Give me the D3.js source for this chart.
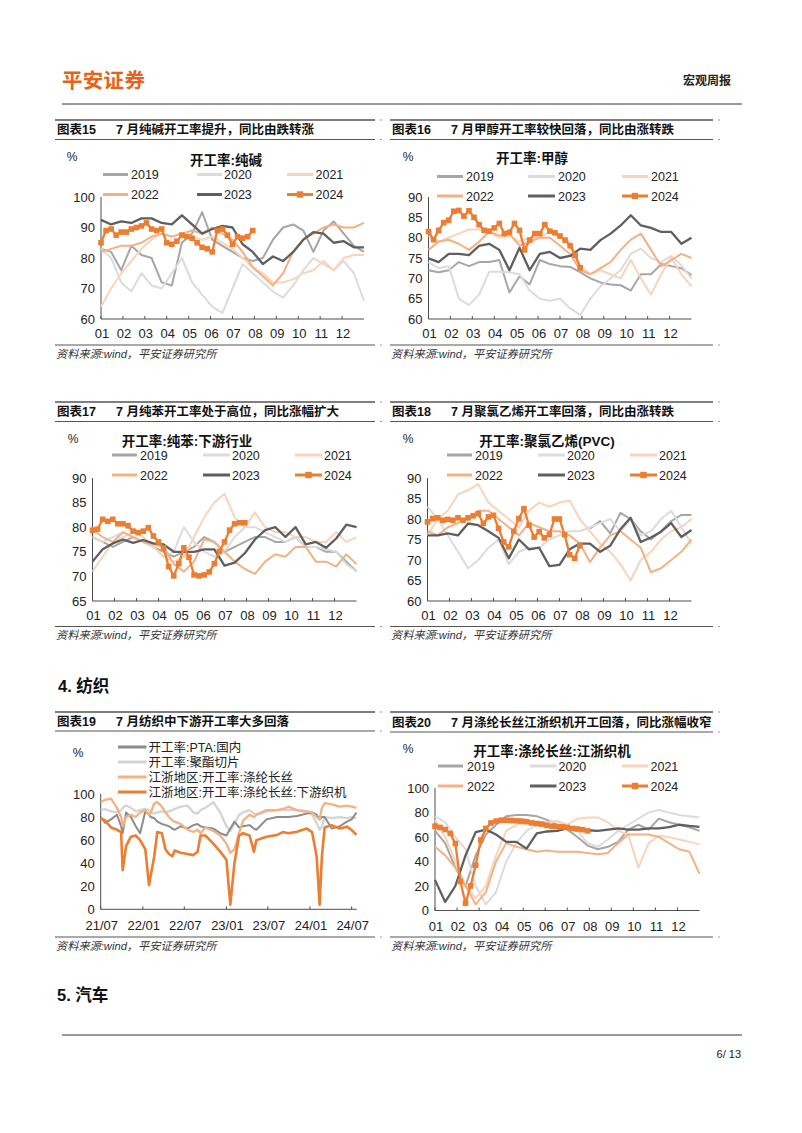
<!DOCTYPE html>
<html><head><meta charset="utf-8">
<script src="https://cdn.jsdelivr.net/npm/d3@7"></script>
<style>body{margin:0;background:#fff}svg{display:block}</style>
</head><body>
<svg id="page" width="802" height="1133"></svg>
<script>
// ---------------- DATA ----------------
const monthLabels = ["01","02","03","04","05","06","07","08","09","10","11","12"];
const yearNames = ["2019","2020","2021","2022","2023","2024"];

// Chart 15: 开工率:纯碱 (biweekly for 2019-2023, weekly for 2024)
const soda2019 = [83,82,76,84,81,80,72,71,85,88,95,86,84,82,80,79,80,86,90,91,89,82,89,92,88,84,82];
const soda2020 = [83,80,72,69,75,71,70,75,80,72,68,64,62,70,78,75,72,69,67,71,76,80,78,76,79,75,66];
const soda2021 = [64,70,75,79,83,86,88,87,88,87,86,87,85,83,80,77,75,72,72,73,75,76,79,76,80,81,81];
const soda2022 = [82,83,84,84,85,87,88,87,88,89,88,90,88,86,82,77,74,71,75,82,86,88,90,91,90,90,91.5];
const soda2023 = [92.5,91,92,91.5,93,93,91.5,91,94,91,88,89.5,90.5,90,84.5,82,78,80.5,79,82,86,88.5,88,85,85.5,83.5,83.5];
const soda2024 = [85,89,89.5,87.5,88.5,88.5,89.5,90,90.5,91.5,89.5,89,89.5,85,84.5,85.5,87.5,87,86.5,85,83.5,83,82,89,89.5,87.5,84.5,87,86.5,87,89];

// Chart 16: 开工率:甲醇
const meth2019 = [72,71.5,72,74,73,74,74,74.5,66.5,70.5,68.5,74.5,73.5,73,72.8,71.5,70,69,68.5,68.3,67,71,71,73.5,73,72.5,70.8];
const meth2020 = [74,72.5,73,65,63.4,66,71.6,71.6,71.5,71,67,65,64.5,65,62.6,61,65,68,70,72,76,77.3,75,74,75.5,73.2,70];
const meth2021 = [80.5,79,80,81,82,82,81.5,80,80.5,79,80,80,81.5,80,79,73,71,72,71,70,74.5,70,66,71,75,71,68];
const meth2022 = [77,79,79.5,78.5,77,79,81.5,80.5,81,78,79,80,80,78,76,72,71,72.5,74,77,79.5,81,77,73,74.5,76,75];
const meth2023 = [74.9,74,76,76,75.7,78,78.5,77,72,77.5,72,76,76.5,75,75.5,77.3,77,79.4,81,83,85.5,83,82.4,81.4,81.4,78.5,80];
const meth2024 = [81.5,79.5,81.8,83.7,84.3,86.5,86.7,85.3,86.6,85,83.2,81.8,81.6,82.4,83.5,81,81.3,83.5,81.8,77,79.4,81,81,83.2,81.6,81.2,80.4,79.4,78,75.7,72.6];

// Chart 17: 开工率:纯苯:下游行业
const benz2019 = [78,77,76,77,78,77,76,75,74,75,76,78,77,75,76,77,78,78,77,77,78,76,76,75,75,73,71];
const benz2020 = [78,77,78,79,78,77,76,74,75,80,77,75,74,75,78,80,80,79,78,77,78,76,76,75.5,75,72.5,71];
const benz2021 = [71,74,77,78,79,78,76,74,73,74,78,82,85,86.8,82,80,83,80,79,79,78,78,77,77,79,77,78];
const benz2022 = [79.5,78,77,79,78,77,76.5,76,72.5,71,73,77.5,77,75,73,71.5,70.5,73,74.5,74,76,76,73,73,72,74.5,72.5];
const benz2023 = [73,75.5,76.7,77.5,76.8,77.4,76.7,76.5,75,75,75,75.5,75.5,72.2,72.8,74.7,77.5,79.4,80,78,80,76.5,77,75.8,77.7,80.5,80];
const benz2024 = [79.4,79.6,81.6,81.2,81.6,80.7,80.7,80.3,79.2,78.9,79.2,79.9,78.2,77,75.8,72,70.1,72.6,75.8,73.9,70.3,70.1,70.3,70.9,72.6,75.1,77,79.4,80.7,80.9,80.9];

// Chart 18: 开工率:聚氯乙烯(PVC)
const pvc2019 = [null,null,null,null,null,null,null,null,null,null,null,null,null,null,null,null,77.7,79.5,76.5,81.5,80,77,75,77,79.5,81,81];
const pvc2020 = [83,80,76,72,68,70,73,75,69,72,73,73,75,76,77,77,78,79,80,77,80,76,77,80,82,78,74];
const pvc2021 = [76,80,82,86,87,88.5,84,82,80,78,82,84,83,84,84.5,80,77,74,72,69,65,70,72,75,77,78,80];
const pvc2022 = [77,76,78,79,80,82,82,80,78,76,79,78,77,77,76,74,69.5,73,76,77,75,73,67,68,70,72,75];
const pvc2023 = [76,76,76.5,76,78.9,78.5,77,75.4,70.4,75,72.6,73,68.5,68.8,72.6,74,74,72,73.5,77.5,80.3,74.4,75.5,76.9,79,75.6,77.3];
const pvc2024 = [79.3,80.1,80.3,79.7,79.9,79.7,80.3,79.7,80.3,80.8,81.3,78.9,80.5,80.9,77.7,74.4,73.2,77,80.1,82.5,78.5,75.6,76.9,75.4,76.2,80,80,76.2,71.3,70.4,73.5];

// Chart 19: 纺织 (shared observation dates)
const textileDates = ["2021-07-01","2021-07-20","2021-08-15","2021-09-10","2021-09-28","2021-10-05","2021-10-20","2021-11-10","2021-12-01","2021-12-20",
  "2022-01-12","2022-01-28","2022-02-05","2022-02-20","2022-03-05","2022-03-25","2022-04-10","2022-04-25","2022-05-10","2022-05-20",
  "2022-06-15","2022-07-15","2022-08-10","2022-08-28","2022-09-10","2022-10-01","2022-11-05","2022-12-05","2023-01-01","2023-01-18",
  "2023-02-05","2023-02-25","2023-03-15","2023-04-12","2023-05-01","2023-05-12","2023-06-25","2023-08-10","2023-09-05","2023-09-28",
  "2023-11-05","2023-12-18","2024-01-10","2024-01-30","2024-02-12","2024-02-22","2024-03-05","2024-04-05","2024-05-10","2024-06-10",
  "2024-07-01","2024-07-22"];
const ptaRate = [80,75,78,82,72,66,84,80,72,66, 85,82,80,79,76,74,73,72,70,69, 72,70,73,74,72,71,70,66,64,70,
  76,71,72,73,70,69,78,80,80,80, 81,83,84,82,78,80,80,70,72,76, 78,84];
const polyChipRate = [86,87,85,84,86,88,90,88,85,86, 87,86,84,83,84,85,84,85,86,87, 89,90,84,83,86,88,93,84,72,68,
  74,82,84,86,83,82,85,86,86,86, 86,84,82,75,69,72,80,79,80,79, 80,79];
const filamentRate = [93,95,96,88,80,72,80,82,80,84, 86,82,84,92,93,89,84,80,77,76, 74,69,67,69,66,71,68,64,57,49,
  52,66,77,82,80,82,86,86,87,89, 86,85,84,80,78,88,92,91,89,90, 89,88];
const loomRate = [79,77,71,69,67,34,55,63,64,60, 52,21,30,46,67,66,52,48,46,51, 49,48,47,50,64,64,57,50,43,4,
  40,64,66,64,50,60,63,64.5,67,66, 67.3,70,67,46,4,46,71,73,70,71.7, 68.8,64.5];
const textileTickDates = ["2021-07-01","2022-01-01","2022-07-01","2023-01-01","2023-07-01","2024-01-01","2024-07-01"];
const textileNames = ["开工率:PTA:国内","开工率:聚酯切片","江浙地区:开工率:涤纶长丝","江浙地区:开工率:涤纶长丝:下游织机"];

// Chart 20: 开工率:涤纶长丝:江浙织机
const loom2019 = [65,55,35,20,45,62,70,77,78,78,77,74,70,66,60,53,50,52,56,66,70,66,75,72,70,68,65];
const loom2020 = [77,72,60,50,20,5,15,40,55,65,70,72,73,70,65,55,52,58,65,70,75,80,82,80,78,77,76];
const loom2021 = [74,60,40,20,10,20,45,65,70,72,72,72,73,70,75,76,76,72,65,62,35,55,61,60,58,56,54];
const loom2022 = [52,45,35,20,5,15,40,55,52,50,48,49,48,48,48,47,46,47,55,62,62,62,60,55,50,48,30];
const loom2023 = [25,7,20,45,64,66,62,56,56,50.5,63,64.5,65,67,67.5,65.5,65,66,67,66,66,67,67,68,70,69,68.3];
const loom2024 = [68.8,67.8,66.1,62.9,54.7,23.6,6,20,37,57.5,67,71.5,73,73.7,73.7,73.5,73.2,73,72.5,71.5,71,70.5,69.5,68.8,68.5,68.3,67.8,67,66.5,66,65];

// ---------------- STYLE ----------------
const yearColors = ["#A6A6A6","#DCDCDC","#F9D3BA","#F4B183","#5F5F5F","#ED7D31"];
const yearWidths = [2,2,2,2,2.3,2.3];
const textileColors = ["#8C8C8C","#D4D4D4","#F4B183","#ED7D31"];
const textileWidths = [2,2.3,2.3,2.6];
const NUM = "'Liberation Sans', Arial, 'Noto Sans CJK SC', sans-serif";
const CJK = "'Liberation Sans', 'Noto Sans CJK SC', sans-serif";
const AXIS = "#4D4D4D";

const svg = d3.select("#page");
svg.append("rect").attr("width",802).attr("height",1133).attr("fill","#fff");

// header
svg.append("text").attr("x",62).attr("y",88).attr("font-family",CJK).attr("font-weight","bold")
  .attr("font-size",20.5).attr("fill","#E8621A").attr("letter-spacing",0.3).text("平安证券");
svg.append("text").attr("x",731).attr("y",85).attr("text-anchor","end").attr("font-family",CJK)
  .attr("font-weight","bold").attr("font-size",12).attr("fill","#222").text("宏观周报");
svg.append("line").attr("x1",62).attr("x2",742).attr("y1",104).attr("y2",104).attr("stroke","#333").attr("stroke-width",1);

// section headers / footer
svg.append("text").attr("x",58).attr("y",692).attr("font-family",CJK).attr("font-weight","bold").attr("font-size",16.5).attr("fill","#111").text("4. 纺织");
svg.append("text").attr("x",57).attr("y",1001).attr("font-family",CJK).attr("font-weight","bold").attr("font-size",16.5).attr("fill","#111").text("5. 汽车");
svg.append("line").attr("x1",62).attr("x2",742).attr("y1",1035).attr("y2",1035).attr("stroke","#333").attr("stroke-width",1);
svg.append("text").attr("x",741).attr("y",1058).attr("text-anchor","end").attr("font-family",NUM).attr("font-size",11).attr("fill","#222").text("6/ 13");

function panelFrame(x0,x1,top,bot,num,title,srcRule,srcText){
  svg.append("line").attr("x1",x0).attr("x2",x1).attr("y1",top).attr("y2",top).attr("stroke","#555").attr("stroke-width",1.6);
  svg.append("line").attr("x1",x0).attr("x2",x1).attr("y1",bot).attr("y2",bot).attr("stroke","#555").attr("stroke-width",1.2);
  [top,bot,srcRule].forEach(yy=>{
    svg.append("line").attr("x1",x1+5).attr("x2",x1+7).attr("y1",yy).attr("y2",yy).attr("stroke","#999").attr("stroke-width",1);
  });
  const t = svg.append("text").attr("y",(top+bot)/2+4.5).attr("font-family",CJK).attr("font-weight","bold").attr("font-size",12.5).attr("fill","#111");
  t.append("tspan").attr("x",x0+2).text(num);
  t.append("tspan").attr("x",x0+61).text(title);
  svg.append("line").attr("x1",x0).attr("x2",x1).attr("y1",srcRule).attr("y2",srcRule).attr("stroke","#555").attr("stroke-width",1);
  svg.append("text").attr("x",x0+1).attr("y",srcText).attr("font-family",CJK).attr("font-style","italic")
    .attr("font-size",11.2).attr("fill","#333").text("资料来源:wind，平安证券研究所");
}

function axes(g, x, y, L, R, T, B, yTicks, xTickVals, xFmt, xLabY){
  g.append("line").attr("x1",L).attr("x2",L).attr("y1",T).attr("y2",B).attr("stroke",AXIS).attr("stroke-width",1);
  g.append("line").attr("x1",L).attr("x2",R).attr("y1",B).attr("y2",B).attr("stroke",AXIS).attr("stroke-width",1);
  yTicks.forEach(v=>{
    g.append("text").attr("x",L-6).attr("y",y(v)+4.5).attr("text-anchor","end").attr("font-family",NUM)
      .attr("font-size",13).attr("fill","#222").text(v);
  });
  xTickVals.forEach((v,i)=>{
    const px = x(v);
    g.append("line").attr("x1",px).attr("x2",px).attr("y1",B).attr("y2",B-3).attr("stroke",AXIS);
    g.append("text").attr("x",px+1).attr("y",xLabY).attr("text-anchor","middle").attr("font-family",NUM)
      .attr("font-size",13).attr("fill","#222").text(xFmt(v,i));
  });
}

function legendItem(g, x1, x2, tx, yy, color, w, label, marker){
  g.append("line").attr("x1",x1).attr("x2",x2).attr("y1",yy).attr("y2",yy).attr("stroke",color).attr("stroke-width",w);
  if(marker) g.append("rect").attr("x",(x1+x2)/2-3.2).attr("y",yy-3.2).attr("width",6.4).attr("height",6.4).attr("fill",color);
  g.append("text").attr("x",tx).attr("y",yy+4.5).attr("font-family",NUM).attr("font-size",12.5).attr("fill","#222").text(label);
}

function seasonal(cfg, data){
  const g = svg.append("g");
  const x = d3.scaleLinear().domain([0,52]).range([cfg.L,cfg.R]);
  const y = d3.scaleLinear().domain([cfg.yMin,cfg.yMax]).range([cfg.B,cfg.T]);
  const yTicks = d3.range(cfg.yMin, cfg.yMax+0.01, cfg.yStep);
  const monthWeeks = monthLabels.map((m,i)=> i*52/12);
  axes(g,x,y,cfg.L,cfg.R,cfg.T,cfg.B,yTicks,monthWeeks,(v,i)=>monthLabels[i],cfg.xLabY);
  g.append("text").attr("x",cfg.pctX).attr("y",cfg.pctY).attr("text-anchor","middle").attr("font-family",NUM).attr("font-size",12).attr("fill","#222").text("%");
  g.append("text").attr("x",cfg.titleX).attr("y",cfg.titleY).attr("text-anchor","middle").attr("font-family",CJK).attr("font-weight","bold").attr("font-size",13.5).attr("fill","#111").text(cfg.title);
  const line = d3.line().defined(d=>d[1]!=null).x(d=>x(d[0])).y(d=>y(d[1]));
  data.forEach((arr,si)=>{
    const step = si===5 ? 1 : 52/(arr.length-1);
    const pts = arr.map((v,i)=>[i*step, v]);
    g.append("path").datum(pts).attr("d",line).attr("fill","none").attr("stroke",yearColors[si])
      .attr("stroke-width",yearWidths[si]).attr("stroke-linejoin","round");
    if(si===5){
      g.selectAll(null).data(pts).enter().append("rect")
        .attr("x",d=>x(d[0])-2.8).attr("y",d=>y(d[1])-2.8).attr("width",5.6).attr("height",5.6).attr("fill",yearColors[5]);
    }
  });
  yearNames.forEach((nm,i)=>{
    const c = cfg.legCols[i%3], ry = cfg.legRows[Math.floor(i/3)];
    legendItem(g,c[0],c[1],c[2],ry,yearColors[i],3,nm,i===5);
  });
}

// ---------------- PANELS ----------------
panelFrame(55,375,120,139.5,"图表15","7 月纯碱开工率提升，同比由跌转涨",345,358);
seasonal({L:101,R:364,T:197,B:319,yMin:60,yMax:100,yStep:10,xLabY:337.5,pctX:72,pctY:161,
  title:"开工率:纯碱",titleX:226,titleY:165,legRows:[174.5,194.5],
  legCols:[[103,128,131],[197,222,224],[287,313,315.5]]},
  [soda2019,soda2020,soda2021,soda2022,soda2023,soda2024]);

panelFrame(390,713,120,139.5,"图表16","7 月甲醇开工率较快回落，同比由涨转跌",345,358);
seasonal({L:428.5,R:691.5,T:197,B:319,yMin:60,yMax:90,yStep:5,xLabY:337.5,pctX:408,pctY:161,
  title:"开工率:甲醇",titleX:532,titleY:163,legRows:[176.5,196],
  legCols:[[437,463,466],[528,555,558],[622,648,651]]},
  [meth2019,meth2020,meth2021,meth2022,meth2023,meth2024]);

panelFrame(55,375,402,421.5,"图表17","7 月纯苯开工率处于高位，同比涨幅扩大",626.5,639);
seasonal({L:92.5,R:356.5,T:478,B:601,yMin:65,yMax:90,yStep:5,xLabY:619.5,pctX:73,pctY:443,
  title:"开工率:纯苯:下游行业",titleX:187,titleY:446,legRows:[455,475],
  legCols:[[112,137,140],[203,230,232],[295,322,324]]},
  [benz2019,benz2020,benz2021,benz2022,benz2023,benz2024]);

panelFrame(390,713,402,421.5,"图表18","7 月聚氯乙烯开工率回落，同比由涨转跌",626.5,639);
seasonal({L:427.5,R:691.5,T:478,B:601,yMin:60,yMax:90,yStep:5,xLabY:619.5,pctX:408,pctY:443,
  title:"开工率:聚氯乙烯(PVC)",titleX:547,titleY:446,legRows:[455,475],
  legCols:[[447,472,475],[538,565,567],[630,657,659]]},
  [pvc2019,pvc2020,pvc2021,pvc2022,pvc2023,pvc2024]);

// Chart 19
panelFrame(55,375,712,731,"图表19","7 月纺织中下游开工率大多回落",937,950);
(function(){
  const g = svg.append("g");
  const L=100.7,R=356.7,T=794,B=909.3;
  const parse = d3.timeParse("%Y-%m-%d");
  const dates = textileDates.map(parse);
  const x = d3.scaleTime().domain([parse("2021-07-01"),parse("2024-07-23")]).range([L,R]);
  const y = d3.scaleLinear().domain([0,100]).range([B,T]);
  const fmt = d3.timeFormat("%y/%m");
  axes(g,x,y,L,R,T,B,d3.range(0,101,20),textileTickDates.map(parse),v=>fmt(v),929.5);
  g.append("text").attr("x",78).attr("y",757).attr("text-anchor","middle").attr("font-family",NUM).attr("font-size",12).attr("fill","#222").text("%");
  const line = d3.line().x(d=>x(d[0])).y(d=>y(d[1]));
  const series = [polyChipRate, ptaRate, filamentRate, loomRate];
  const idx = [1,0,2,3];
  series.forEach((arr,k)=>{
    const i = idx[k];
    g.append("path").datum(arr.map((v,j)=>[dates[j],v])).attr("d",line).attr("fill","none")
      .attr("stroke",textileColors[i]).attr("stroke-width",textileWidths[i]).attr("stroke-linejoin","round");
  });
  const rows=[747,762,777,792];
  textileNames.forEach((nm,i)=>{
    g.append("line").attr("x1",118).attr("x2",146.5).attr("y1",rows[i]).attr("y2",rows[i]).attr("stroke",textileColors[i]).attr("stroke-width",3);
    g.append("text").attr("x",148.5).attr("y",rows[i]+4.5).attr("font-family",CJK).attr("font-size",12.5).attr("fill","#222").text(nm);
  });
})();

panelFrame(390,713,712,732,"图表20","7 月涤纶长丝江浙织机开工回落，同比涨幅收窄",937,950);
seasonal({L:435,R:699.5,T:788,B:910.5,yMin:0,yMax:100,yStep:20,xLabY:931,pctX:408,pctY:753,
  title:"开工率:涤纶长丝:江浙织机",titleX:552,titleY:756,legRows:[766,786],
  legCols:[[438,463,467],[530,556.5,558.5],[622,648,650.5]]},
  [loom2019,loom2020,loom2021,loom2022,loom2023,loom2024]);
</script>
</body></html>
